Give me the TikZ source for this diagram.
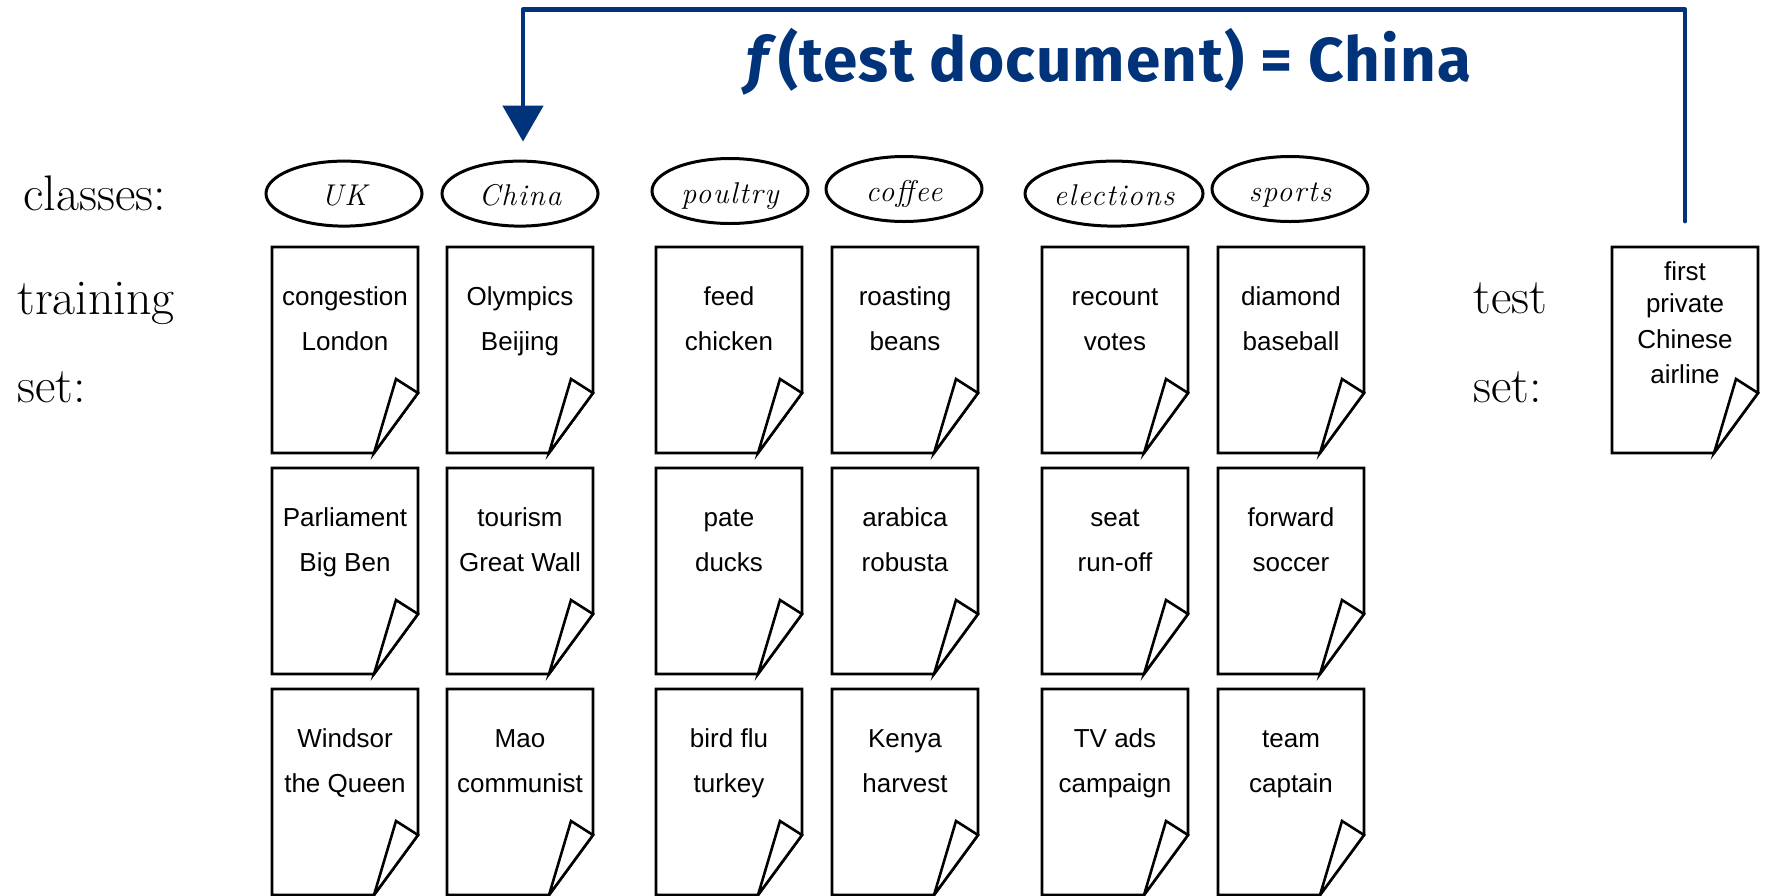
\documentclass[tikz,border=0pt]{standalone}
\usepackage{fontspec}
\usetikzlibrary{calc,arrows.meta,shapes.geometric}
\newfontfamily\docfont{Liberation Sans}
\newfontfamily\titlefont[LetterSpace=2]{Fira Sans}
\newfontfamily\classfont[LetterSpace=5]{Latin Modern Roman}
\definecolor{navy}{RGB}{0,51,122}

\tikzset{
  x=0.5pt, y=0.5pt,
  page/.style={draw=none, minimum width=73pt, minimum height=103pt,
    inner sep=0pt, outer sep=0pt},
  pageline/.style={line width=1.3pt, line join=miter, fill=white},
  doctext/.style={font=\docfont\fontsize{13}{15}\selectfont, anchor=base, inner sep=0pt},
  classnode/.style={ellipse, draw, line width=1.5pt, minimum width=78pt,
    minimum height=32.5pt, inner sep=0pt, text height=12pt, text depth=0pt,
    font=\classfont\itshape\fontsize{15}{17}\selectfont},
  sidelabel/.style={font=\fontsize{25}{30}\selectfont, anchor=base west, inner sep=0pt},
  flow/.style={draw=navy, line width=2.4pt, -{Triangle[length=18pt,width=20pt]},
    line join=round, line cap=round},
  titletext/.style={text=navy, font=\titlefont\bfseries\fontsize{31}{35}\selectfont,
    anchor=base west, inner sep=0pt},
}

% a sheet of paper with a curled lower right corner
\newcommand\docpage[3]{%
  \node[page, anchor=north] (#1) at (#2,-#3) {};
  \draw[pageline] (#1.north west) -- (#1.north east) -- ($(#1.south east)+(0,60)$)
    -- ($(#1.south east)+(-44,0)$) -- (#1.south west) -- cycle;
  \draw[pageline] ($(#1.south east)+(0,60)$) -- ($(#1.south east)+(-22,74)$)
    -- ($(#1.south east)+(-44,0)$) -- cycle;
}
% two lines of words on a sheet
\newcommand\twowords[3]{%
  \node[doctext] (#1-a) at ($(#1.north)+(0,-58)$) {#2};
  \node[doctext] (#1-b) at ($(#1.north)+(0,-103)$) {#3};
}

\begin{document}
\begin{tikzpicture}
\useasboundingbox (0,0) rectangle (1765,-895);

% row labels
\node[sidelabel] (lclasses) at (23,-210) {classes:};
\node[sidelabel] (ltraining) at (17,-314) {training};
\node[sidelabel] (lset) at (17,-402) {set:};
\node[sidelabel] (ltest) at (1473,-313) {test};
\node[sidelabel] (ltestset) at (1473,-402) {set:};

% classes
\node[classnode] (cuk) at (344,-193.6) {UK};
\node[classnode] (cchina) at (520,-193.6) {China};
\node[classnode] (cpoultry) at (730,-191) {poultry};
\node[classnode] (ccoffee) at (904,-189) {coffee};
\node[classnode, minimum width=89pt] (celections) at (1114,-193.6) {elections};
\node[classnode] (csports) at (1290,-189) {sports};

% training documents
\docpage{uk1}{345}{247}   \twowords{uk1}{congestion}{London}
\docpage{uk2}{345}{468}   \twowords{uk2}{Parliament}{Big Ben}
\docpage{uk3}{345}{689}   \twowords{uk3}{Windsor}{the Queen}

\docpage{ch1}{520}{247}   \twowords{ch1}{Olympics}{Beijing}
\docpage{ch2}{520}{468}   \twowords{ch2}{tourism}{Great Wall}
\docpage{ch3}{520}{689}   \twowords{ch3}{Mao}{communist}

\docpage{po1}{729}{247}   \twowords{po1}{feed}{chicken}
\docpage{po2}{729}{468}   \twowords{po2}{pate}{ducks}
\docpage{po3}{729}{689}   \twowords{po3}{bird flu}{turkey}

\docpage{co1}{905}{247}   \twowords{co1}{roasting}{beans}
\docpage{co2}{905}{468}   \twowords{co2}{arabica}{robusta}
\docpage{co3}{905}{689}   \twowords{co3}{Kenya}{harvest}

\docpage{el1}{1115}{247}  \twowords{el1}{recount}{votes}
\docpage{el2}{1115}{468}  \twowords{el2}{seat}{run-off}
\docpage{el3}{1115}{689}  \twowords{el3}{TV ads}{campaign}

\docpage{sp1}{1291}{247}  \twowords{sp1}{diamond}{baseball}
\docpage{sp2}{1291}{468}  \twowords{sp2}{forward}{soccer}
\docpage{sp3}{1291}{689}  \twowords{sp3}{team}{captain}

% test document
\docpage{test}{1685}{247}
\node[doctext] (test-a) at ($(test.north)+(0,-33)$) {first};
\node[doctext] (test-b) at ($(test.north)+(0,-65)$) {private};
\node[doctext] (test-c) at ($(test.north)+(0,-101)$) {Chinese};
\node[doctext] (test-d) at ($(test.north)+(0,-136)$) {airline};

% classification arrow
\coordinate (fromtest) at ($(test.north)+(0,26)$);
\coordinate (tochina) at ($(cchina.north)+(3,18)$);
\draw[flow] (fromtest) |- ($(tochina)+(0,132)$) -- (tochina);
\node[titletext] (ftitle) at (746,-81) {\textit{f}(test document) = China};
\end{tikzpicture}
\end{document}
